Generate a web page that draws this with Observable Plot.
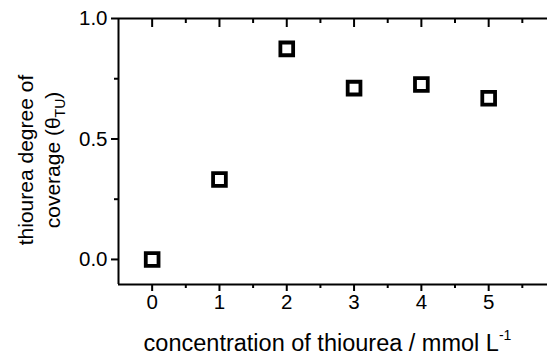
<!DOCTYPE html>
<html>
<head>
<meta charset="utf-8">
<script src="https://cdn.jsdelivr.net/npm/d3@7"></script>
<script src="https://cdn.jsdelivr.net/npm/@observablehq/plot@0.6"></script>
<style>
  html, body { margin: 0; padding: 0; background: #fff; }
  #chart svg { display: block; }
</style>
</head>
<body>
<div id="chart"></div>
<script>
// Data
const concentration = [0, 1, 2, 3, 4, 5];
const coverage = [0.0, 0.332, 0.874, 0.711, 0.726, 0.669];

const xMajorTicks = [0, 1, 2, 3, 4, 5];
const xMinorTicks = [0.5, 1.5, 2.5, 3.5, 4.5, 5.5];
const yMajorTicks = [0.0, 0.5, 1.0];
const yMinorTicks = [0.25, 0.75];
const xDomain = [-0.5, 5.874];
const yDomain = [-0.104, 1.0];

const xTitle = "concentration of thiourea / mmol L";
const xTitleSup = "-1";
const yTitleLine1 = "thiourea degree of";
const yTitleLine2 = "coverage (θ";
const yTitleSub = "TU";
const yTitleEnd = ")";

const data = concentration.map((c, i) => ({c, v: coverage[i]}));

const FONT = "'Liberation Sans', Arial, Helvetica, sans-serif";
const W = 547, H = 356;
const mL = 118, mR = 0, mT = 18, mB = 72;

const chart = Plot.plot({
  width: W,
  height: H,
  marginLeft: mL,
  marginRight: mR,
  marginTop: mT,
  marginBottom: mB,
  style: {fontFamily: FONT, fontSize: "20px", color: "#000", background: "#fff", overflow: "visible"},
  x: {domain: xDomain, axis: null},
  y: {domain: yDomain, axis: null},
  marks: [
    // frame lines
    Plot.ruleX([xDomain[0]], {stroke: "#000", strokeWidth: 2}),
    Plot.ruleY([yDomain[0]], {stroke: "#000", strokeWidth: 2}),
    Plot.ruleY([yDomain[1]], {stroke: "#000", strokeWidth: 2}),
    // bottom axis
    Plot.axisX({anchor: "bottom", ticks: xMajorTicks, tickSize: 7, tickPadding: 3, strokeWidth: 2, fontSize: 20.5, tickFormat: d3.format("d"), label: null}),
    Plot.axisX({anchor: "bottom", ticks: xMinorTicks, tickSize: 4, strokeWidth: 2, text: null, label: null}),
    // top axis (inward ticks, no labels)
    Plot.axisX({anchor: "top", ticks: xMajorTicks, tickSize: 8, dy: 8, strokeWidth: 2, text: null, label: null}),
    Plot.axisX({anchor: "top", ticks: xMinorTicks, tickSize: 4, dy: 4, strokeWidth: 2, text: null, label: null}),
    // left axis
    Plot.axisY({anchor: "left", ticks: yMajorTicks, tickSize: 7, tickPadding: 4, strokeWidth: 2, fontSize: 20.5, tickFormat: d3.format(".1f"), label: null}),
    Plot.axisY({anchor: "left", ticks: yMinorTicks, tickSize: 4, strokeWidth: 2, text: null, label: null}),
    // data
    Plot.dot(data, {x: "c", y: "v", symbol: "square", r: 7.2, fill: "#fff", stroke: "#000", strokeWidth: 3.8})
  ]
});

document.getElementById("chart").appendChild(chart);

// Axis titles with sub/superscripts
const svg = d3.select(chart);
const xs = chart.scale("x"), ys = chart.scale("y");
const xCenter = (xs.range[0] + xs.range[1]) / 2 - 5;
const yCenter = (ys.range[0] + ys.range[1]) / 2 + 9;

const xt = svg.append("text")
  .attr("x", xCenter).attr("y", H - 5)
  .attr("text-anchor", "middle")
  .attr("font-family", FONT).attr("font-size", 23.5).attr("fill", "#000");
xt.append("tspan").text(xTitle);
xt.append("tspan").attr("font-size", 14).attr("dy", -11).text(xTitleSup);

const yt1 = svg.append("text")
  .attr("transform", `translate(33,${yCenter}) rotate(-90)`)
  .attr("text-anchor", "middle")
  .attr("font-family", FONT).attr("font-size", 21).attr("fill", "#000")
  .text(yTitleLine1);

const yt2 = svg.append("text")
  .attr("transform", `translate(60,${yCenter}) rotate(-90)`)
  .attr("text-anchor", "middle")
  .attr("font-family", FONT).attr("font-size", 21).attr("fill", "#000");
yt2.append("tspan").text(yTitleLine2);
yt2.append("tspan").attr("font-size", 14).attr("dy", 5).text(yTitleSub);
yt2.append("tspan").attr("dy", -5).text(yTitleEnd);
</script>
</body>
</html>
